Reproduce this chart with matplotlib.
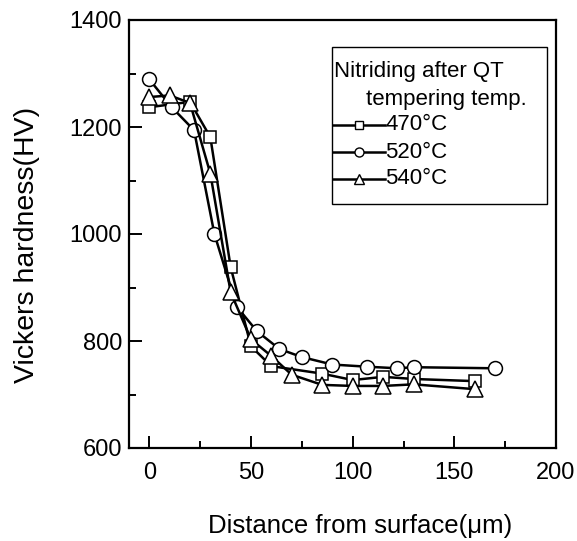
import matplotlib
matplotlib.use("Agg")
import matplotlib.pyplot as plt
from matplotlib.ticker import MultipleLocator
from matplotlib.patches import Rectangle

plt.rcParams['font.family'] = ['Liberation Sans', 'DejaVu Sans']

# Data
x470 = [0, 20, 30, 40, 50, 60, 85, 100, 115, 130, 160]
y470 = [1237, 1247, 1181, 938, 790, 753, 739, 727, 733, 729, 725]

x520 = [0, 11, 22, 32, 43, 53, 64, 75, 90, 107, 122, 130, 170]
y520 = [1289, 1237, 1194, 1000, 864, 818, 785, 770, 756, 752, 749, 751, 749]

x540 = [0, 10, 20, 30, 40, 50, 60, 70, 85, 100, 115, 130, 160]
y540 = [1256, 1259, 1245, 1113, 891, 803, 772, 737, 718, 716, 716, 719, 710]

labels = ["470\u00b0C", "520\u00b0C", "540\u00b0C"]
markers = ['s', 'o', '^']
legend_title = ["Nitriding after QT", "tempering temp."]
xlabel = "Distance from surface(\u03bcm)"
ylabel = "Vickers hardness(HV)"

W, H = 577, 541
L, R, T, B = 129, 556, 20, 448
fig = plt.figure(figsize=(W/100, H/100), dpi=100)
ax = fig.add_axes([L/W, 1-B/H, (R-L)/W, (B-T)/H])

def fx(px):
    return (px - L) / (R - L)

def fy(py):
    return (B - py) / (B - T)

common = dict(color='black', lw=1.8, mfc='white', mec='black', mew=1.1)
ax.plot(x470, y470, marker='s', ms=8, **common)
ax.plot(x520, y520, marker='o', ms=10, **common)
ax.plot(x540, y540, marker='^', ms=11, **common)

ax.set_xlim(-10, 200)
ax.set_ylim(600, 1400)
ax.xaxis.set_major_locator(MultipleLocator(50))
ax.xaxis.set_minor_locator(MultipleLocator(25))
ax.yaxis.set_major_locator(MultipleLocator(200))
ax.yaxis.set_minor_locator(MultipleLocator(100))
ax.tick_params(which='both', direction='in', top=False, right=False, width=1.4)
ax.tick_params(which='major', length=9, labelsize=17)
ax.tick_params(axis='x', which='major', pad=10)
ax.tick_params(axis='y', which='major', pad=5)
ax.tick_params(which='minor', length=5)
for s in ax.spines.values():
    s.set_linewidth(1.6)

ax.set_xlabel(xlabel, fontsize=18.5)
ax.xaxis.set_label_coords(fx(360), fy(526), transform=ax.transAxes)
ax.xaxis.label.set_va('center')
ax.set_ylabel(ylabel, fontsize=20.5)
ax.yaxis.set_label_coords(fx(27), fy(245), transform=ax.transAxes)
ax.yaxis.label.set_va('center')

# Legend box (drawn manually to match the reference layout)
lx0, lx1, ly0, ly1 = 332, 547, 47, 204
ax.add_patch(Rectangle((fx(lx0), fy(ly1)), fx(lx1) - fx(lx0), fy(ly0) - fy(ly1),
                       transform=ax.transAxes, fill=True, facecolor='white',
                       edgecolor='black', lw=1.0, zorder=5))
fs = 16
ax.text(fx(334), fy(72), legend_title[0], transform=ax.transAxes, fontsize=fs,
        ha='left', va='center', zorder=6)
ax.text(fx(366), fy(99), legend_title[1], transform=ax.transAxes, fontsize=fs,
        ha='left', va='center', zorder=6)
rows = [125, 152, 179]
msz = [5.5, 6.5, 7]
for lab, mk, yy, m in zip(labels, markers, rows, msz):
    ax.plot([fx(333), fx(385)], [fy(yy), fy(yy)], transform=ax.transAxes,
            color='black', lw=1.8, zorder=6, clip_on=False)
    ax.plot([fx(359)], [fy(yy)], transform=ax.transAxes, marker=mk, ms=m,
            mfc='white', mec='black', mew=1.0, zorder=7, clip_on=False)
    ax.text(fx(385), fy(yy), lab, transform=ax.transAxes, fontsize=fs,
            ha='left', va='center', zorder=6)

fig.savefig("out.png", dpi=100)
